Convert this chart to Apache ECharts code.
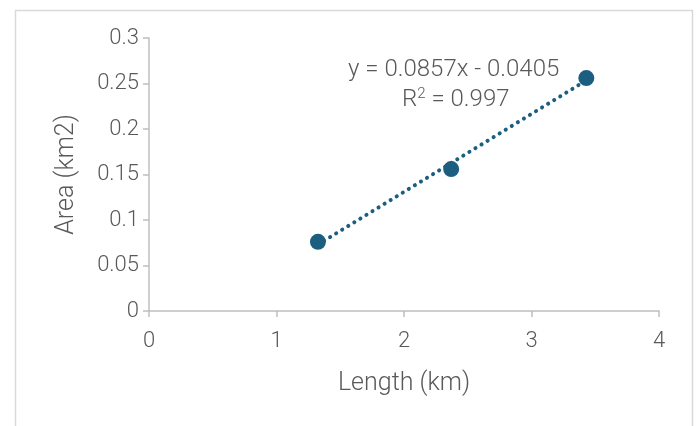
<!DOCTYPE html>
<html><head><meta charset="utf-8">
<script src="https://cdn.jsdelivr.net/npm/echarts@6/dist/echarts.min.js"></script>
<style>html,body{margin:0;padding:0;background:#fff}#c{width:696px;height:426px}</style>
</head><body><div id="c"></div>
<script>
var lengthKm = [1.325, 2.37, 3.43];
var areaKm2 = [0.076, 0.156, 0.256];
var trendSlope = 0.0857;
var trendIntercept = -0.0405;
var xTicks = [0, 1, 2, 3, 4];
var yTicks = [0, 0.05, 0.1, 0.15, 0.2, 0.25, 0.3];
var eqText = ['y = 0.0857x - 0.0405', 'R\u00b2 = 0.997'];

var pts = lengthKm.map(function (x, i) { return [x, areaKm2[i]]; });
var tx0 = lengthKm[0], tx1 = lengthKm[lengthKm.length - 1];
var trend = [[tx0, trendSlope * tx0 + trendIntercept], [tx1, trendSlope * tx1 + trendIntercept]];
var font = 'Roboto, sans-serif';
var fw = 300;
var gray = '#595959';
var axisGray = '#bfbfbf';
var chart = echarts.init(document.getElementById('c'));
chart.setOption({
  animation: false,
  grid: { left: 149, right: 37, top: 38, bottom: 115 },
  xAxis: {
    type: 'value', min: xTicks[0], max: xTicks[xTicks.length - 1], interval: 1,
    name: 'Length (km)', nameLocation: 'middle', nameGap: 60,
    nameTextStyle: { color: gray, fontSize: 25, fontFamily: font, fontWeight: fw },
    axisLine: { show: true, lineStyle: { color: axisGray, width: 1.5 } },
    axisTick: { show: true, length: 6, lineStyle: { color: axisGray, width: 1.5 } },
    axisLabel: { color: gray, fontSize: 22, fontFamily: font, fontWeight: fw, margin: 19 },
    splitLine: { show: false }
  },
  yAxis: {
    type: 'value', min: yTicks[0], max: yTicks[yTicks.length - 1], interval: 0.05,
    name: 'Area (km2)', nameLocation: 'middle', nameGap: 70, nameRotate: 90,
    nameTextStyle: { color: gray, fontSize: 25, fontFamily: font, fontWeight: fw },
    axisLine: { show: true, lineStyle: { color: axisGray, width: 1.5 } },
    axisTick: { show: true, length: 6, lineStyle: { color: axisGray, width: 1.5 } },
    axisLabel: { color: gray, fontSize: 22, fontFamily: font, fontWeight: fw, margin: 10 },
    splitLine: { show: false }
  },
  graphic: [
    { type: 'rect', left: 13, top: 8, z: -10, silent: true,
      shape: { width: 677, height: 430 },
      style: { fill: 'none', stroke: '#d9d9d9', lineWidth: 1.5 } },
    { type: 'text', left: 348, top: 58,
      style: { text: eqText[0], fill: gray, fontSize: 24, fontFamily: font, fontWeight: fw } },
    { type: 'text', left: 402, top: 87,
      style: { text: '{a|R}{s|2}{a|' + eqText[1].slice(2) + '}', fill: gray, fontFamily: font,
        rich: { a: { fontSize: 24, fill: gray, fontFamily: font, fontWeight: fw, verticalAlign: 'bottom' },
                s: { fontSize: 15, fill: gray, fontFamily: font, fontWeight: fw, verticalAlign: 'top', padding: [0, 0, 10, 0] } } } }
  ],
  series: [
    { type: 'line', data: trend, symbol: 'none', z: 1,
      lineStyle: { color: '#1b5e80', width: 4, type: [0.1, 7], cap: 'round' } },
    { type: 'scatter', data: pts, symbol: 'circle', symbolSize: 16, z: 3,
      itemStyle: { color: '#1b5e80', opacity: 1 } }
  ]
});
</script></body></html>
